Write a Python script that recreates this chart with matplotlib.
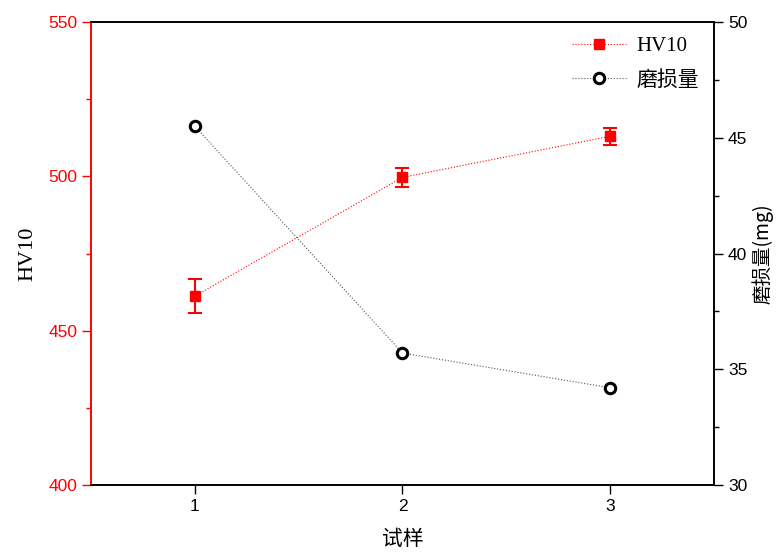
import matplotlib
matplotlib.use("Agg")
import matplotlib.pyplot as plt
from matplotlib.ticker import MultipleLocator
from matplotlib.lines import Line2D

plt.rcParams['font.family'] = ['Liberation Serif', 'Noto Sans CJK SC', 'DejaVu Sans']

samples = [1, 2, 3]
hv10 = [461.2, 499.7, 513.0]
hv10_err = [5.5, 3.0, 2.7]
wear = [45.5, 35.7, 34.2]

fig = plt.figure(figsize=(7.78, 5.53), dpi=100)
ax = fig.add_axes([0.117, 0.123, 0.8007, 0.837])
ax2 = ax.twinx()

ax.errorbar(samples, hv10, yerr=hv10_err, color='red', marker='s', markersize=7.5,
            linestyle=':', linewidth=0.8, elinewidth=1.5, capsize=5, capthick=1.5, zorder=3)
ax2.plot(samples, wear, color='#555555', linestyle=':', linewidth=0.8, marker='o',
         markersize=7.5, markerfacecolor='white', markeredgecolor='black',
         markeredgewidth=2.2)

ax.set_xlim(0.5, 3.5)
ax.set_ylim(400, 550)
ax2.set_ylim(30, 50)
ax.set_xticks(samples)
ax.yaxis.set_major_locator(MultipleLocator(50))
ax.yaxis.set_minor_locator(MultipleLocator(25))
ax2.yaxis.set_major_locator(MultipleLocator(5))
ax2.yaxis.set_minor_locator(MultipleLocator(2.5))

for lab in ax.get_xticklabels() + ax.get_yticklabels() + ax2.get_yticklabels():
    lab.set_fontfamily(['Liberation Sans', 'DejaVu Sans'])
    lab.set_fontsize(12.5)

ax.tick_params(axis='y', which='major', direction='out', length=6.5, width=1, colors='red', labelcolor='red')
ax.tick_params(axis='y', which='minor', direction='out', length=3.6, width=1, colors='red')
ax.tick_params(axis='x', which='major', direction='out', length=6.5, width=1, colors='black')
ax2.tick_params(axis='y', which='major', direction='out', length=6.5, width=1, colors='black')
ax2.tick_params(axis='y', which='minor', direction='out', length=3.6, width=1, colors='black')

for a in (ax, ax2):
    for s in a.spines.values():
        s.set_linewidth(1.2)
ax2.spines['left'].set_color('red')
ax.spines['left'].set_color('red')

ax.set_xlabel('试样', fontsize=15, family=['Noto Sans CJK SC', 'DejaVu Sans'], labelpad=10)
ax.set_ylabel('HV10', fontsize=16, labelpad=8)
ax2.set_ylabel('磨损量(mg)', fontsize=14, family=['Noto Sans CJK SC', 'Liberation Serif'], labelpad=3)

h1 = Line2D([], [], color='red', linestyle=':', linewidth=0.8, marker='s', markersize=7.5)
h2 = Line2D([], [], color='#555555', linestyle=':', linewidth=0.8, marker='o', markersize=7.5,
            markerfacecolor='white', markeredgecolor='black', markeredgewidth=2.2)
ax.legend([h1, h2], ['HV10', '磨损量'], loc='upper right', frameon=False,
          prop={'family': ['Liberation Serif', 'Noto Sans CJK SC'], 'size': 15},
          handlelength=2.6, handletextpad=0.5, borderaxespad=0.3, labelspacing=0.7)

fig.savefig('out.png', dpi=100)
